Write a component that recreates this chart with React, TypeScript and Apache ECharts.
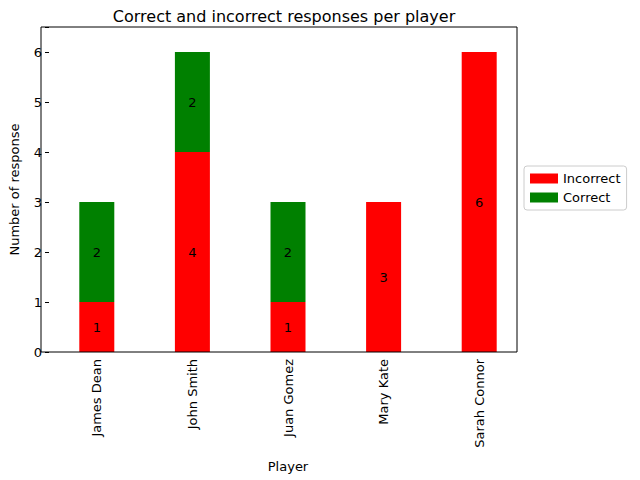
import * as echarts from "echarts";
import { useEffect, useRef } from "react";

const players = ["James Dean", "John Smith", "Juan Gomez", "Mary Kate", "Sarah Connor"];
const incorrect = [1, 4, 1, 3, 6];
const correct = [2, 2, 2, 0, 0];

const font = "DejaVu Sans";

const App: React.FC = () => {
    const node = useRef<HTMLDivElement>(null);

    useEffect(() => {
        const chart = echarts.init(node.current, undefined, { renderer: "svg" });
        const barLabel = {
            show: true,
            position: "inside" as const,
            color: "#000",
            fontFamily: font,
            fontSize: 13,
            formatter: (p: any) => (p.value ? String(p.value) : ""),
        };
        chart.setOption({
            animation: false,
            textStyle: { fontFamily: font },
            title: {
                text: "Correct and incorrect responses per player",
                left: 279,
                top: 3,
                textAlign: "center",
                textStyle: { fontSize: 16, fontWeight: "normal", color: "#000", fontFamily: font },
            },
            legend: {
                orient: "vertical",
                left: 524,
                top: 166,
                padding: [6, 6, 6, 6],
                itemGap: 6,
                itemWidth: 28,
                itemHeight: 10,
                borderColor: "#ccc",
                borderWidth: 1,
                borderRadius: 3,
                icon: "rect",
                data: ["Incorrect", "Correct"],
                textStyle: { fontSize: 13, color: "#000", fontFamily: font },
            },
            grid: { left: 31, width: 496, top: 27, height: 325 },
            xAxis: {
                type: "category",
                data: players,
                name: "Player",
                nameLocation: "middle",
                nameGap: 108,
                nameTextStyle: { fontSize: 13, color: "#000", fontFamily: font },
                axisLine: { show: false },
                axisTick: { alignWithLabel: true, length: 4, lineStyle: { color: "#000" } },
                axisLabel: { rotate: 90, fontSize: 13, color: "#000", fontFamily: font, margin: 7 },
            },
            yAxis: {
                type: "value",
                min: 0,
                max: 6.5,
                interval: 1,
                name: "Number of response",
                nameLocation: "middle",
                nameGap: 28,
                nameTextStyle: { fontSize: 13, color: "#000", fontFamily: font },
                splitLine: { show: false },
                axisLine: { show: false },
                axisTick: { show: true, length: 4, lineStyle: { color: "#000" } },
                axisLabel: {
                    fontSize: 13,
                    color: "#000",
                    fontFamily: font,
                    margin: 7,
                    formatter: (v: number) => (Number.isInteger(v) ? String(v) : ""),
                },
            },
            graphic: [
                {
                    type: "rect",
                    shape: { x: 41, y: 27, width: 476, height: 325 },
                    style: { fill: "none", stroke: "#000", lineWidth: 1 },
                    z: 100,
                },
            ],
            series: [
                {
                    name: "Incorrect",
                    type: "bar",
                    stack: "r",
                    barWidth: 35,
                    data: incorrect,
                    itemStyle: { color: "#ff0000" },
                    label: barLabel,
                },
                {
                    name: "Correct",
                    type: "bar",
                    stack: "r",
                    barWidth: 35,
                    data: correct,
                    itemStyle: { color: "#008000" },
                    label: barLabel,
                },
            ],
        });
        return () => chart.dispose();
    }, []);

    return <div ref={node} style={{ position: "absolute", left: 0, top: 0, width: 640, height: 480 }}></div>;
};

export default App;
